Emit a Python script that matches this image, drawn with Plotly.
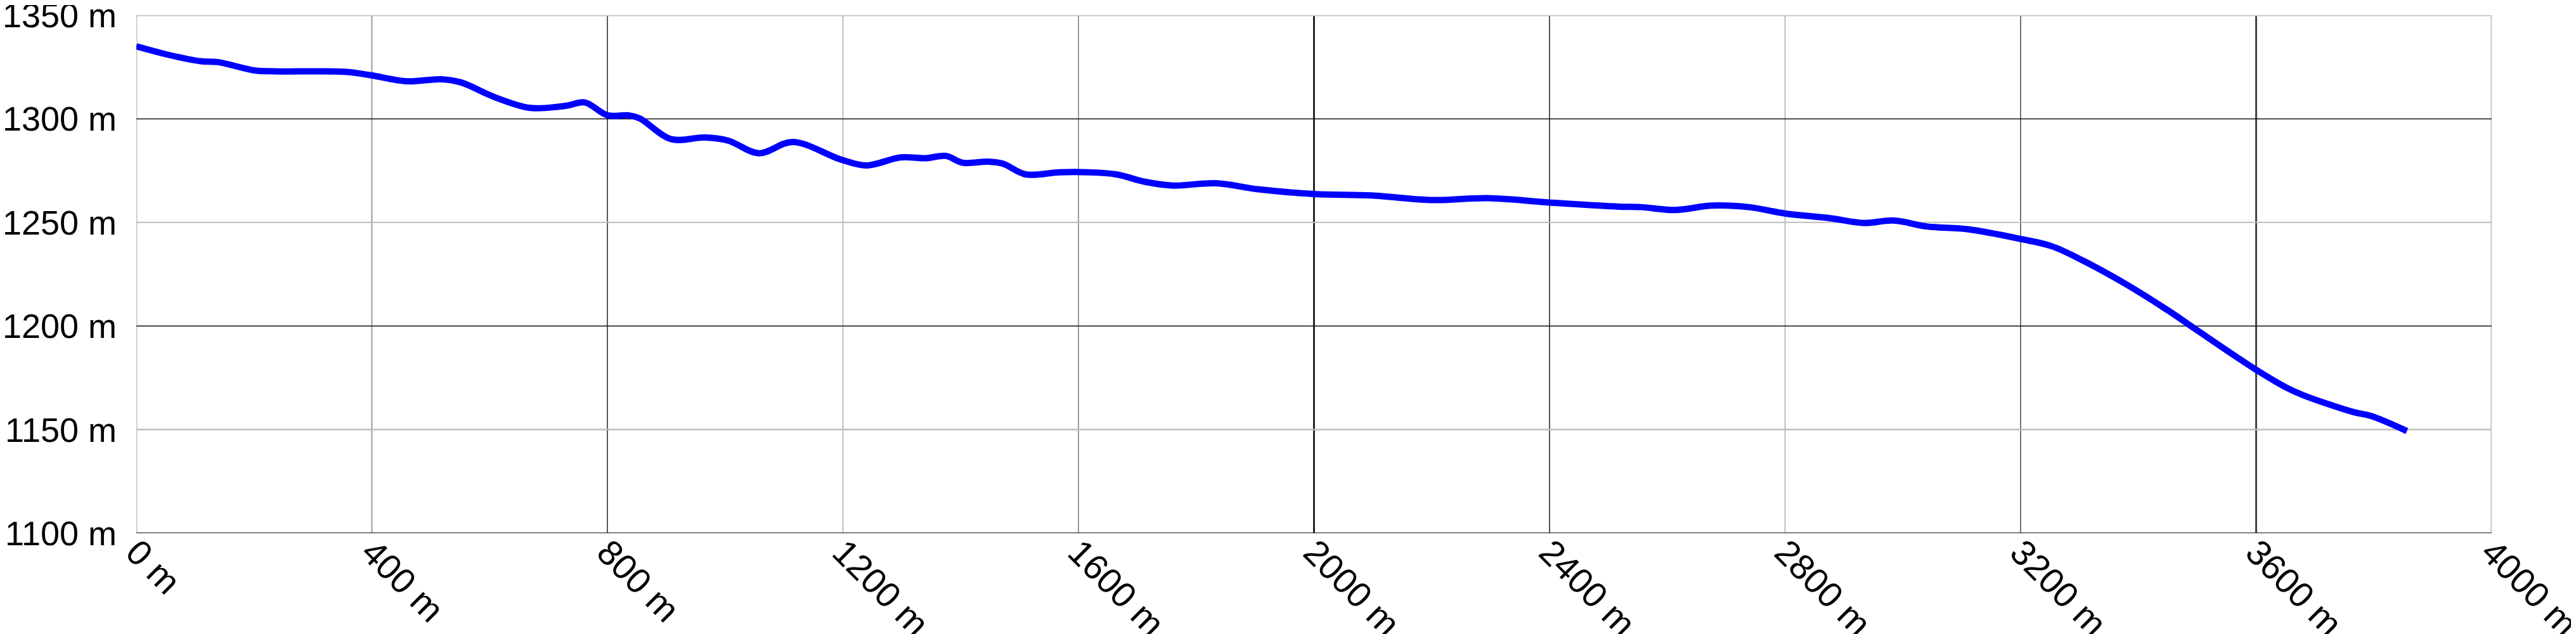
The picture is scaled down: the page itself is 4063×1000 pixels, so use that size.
import plotly.graph_objects as go

# distance along route (m) and elevation (m)
distance = [0, 56, 109, 138, 200, 234, 354, 397, 460, 517, 551, 609, 667, 716, 734,
            762, 800, 836, 855, 908, 966, 1005, 1057, 1115, 1197, 1240, 1298, 1341,
            1375, 1403, 1447, 1472, 1510, 1568, 1616, 1664, 1713, 1761, 1833, 1905,
            2000, 2097, 2202, 2295, 2400, 2517, 2555, 2613, 2676, 2738, 2800, 2877,
            2934, 2984, 3042, 3110, 3200, 3253, 3307, 3379, 3451, 3501, 3600, 3652,
            3680, 3766, 3795, 3856]
elevation = [1335.0, 1330.8, 1327.8, 1327.4, 1323.4, 1322.9, 1322.7, 1321.1, 1318.1,
             1319.1, 1317.6, 1310.4, 1305.3, 1305.8, 1306.5, 1307.9, 1301.7, 1301.7,
             1300.2, 1290.2, 1291.0, 1289.5, 1283.4, 1288.8, 1280.3, 1277.5, 1281.4,
             1281.0, 1282.1, 1278.8, 1279.3, 1278.3, 1273.2, 1274.2, 1274.2, 1273.2,
             1269.6, 1267.8, 1268.9, 1266.0, 1263.7, 1263.0, 1260.8, 1261.7, 1259.6,
             1257.6, 1257.4, 1256.0, 1258.1, 1257.4, 1254.3, 1252.0, 1249.7, 1250.9,
             1248.0, 1246.7, 1242.0, 1238.5, 1231.4, 1220.2, 1207.4, 1197.7, 1178.9,
             1170.2, 1166.6, 1158.4, 1156.6, 1149.3]

x_ticks = [0, 400, 800, 1200, 1600, 2000, 2400, 2800, 3200, 3600, 4000]
x_tick_labels = [f"{v} m" for v in x_ticks]
y_ticks = [1100, 1150, 1200, 1250, 1300, 1350]
y_tick_labels = [f"{v} m" for v in y_ticks]

# grid line styles (colour, width) per tick, as seen in the reference
x_grid_style = [("#c4c4c4", 3), ("#9a9a9a", 2), ("#222222", 1.5), ("#a8a8a8", 1.5),
                ("#9a9a9a", 2), ("#262626", 3), ("#555555", 2), ("#bcbcbc", 2),
                ("#444444", 1.5), ("#444444", 3), ("#bcbcbc", 3)]
y_grid_style = [("#111111", 2), ("#bcbcbc", 2.5), ("#111111", 1.5), ("#bcbcbc", 2),
                ("#111111", 1.5), ("#bcbcbc", 3)]

fig = go.Figure()

shapes = []
for v, (c, w) in zip(x_ticks, x_grid_style):
    shapes.append(dict(type="line", xref="x", yref="paper", x0=v, x1=v, y0=0, y1=1,
                       line=dict(color=c, width=w), layer="below"))
for v, (c, w) in zip(y_ticks, y_grid_style):
    shapes.append(dict(type="line", xref="paper", yref="y", x0=0, x1=1, y0=v, y1=v,
                       line=dict(color=c, width=w), layer="below"))

fig.add_trace(go.Scatter(
    x=distance, y=elevation, mode="lines",
    line=dict(color="#0000ff", width=10, shape="spline", smoothing=1.0),
    showlegend=False, hoverinfo="skip", cliponaxis=False,
))

xfont = dict(family="Liberation Sans, Arial, sans-serif", size=56, color="#000000")
yfont = dict(family="Liberation Sans, Arial, sans-serif", size=54, color="#000000")

fig.update_layout(
    width=4063, height=1000,
    margin=dict(l=207, r=141, t=16, b=167),
    paper_bgcolor="white", plot_bgcolor="white",
    shapes=shapes,
    xaxis=dict(range=[0, 4000], tickmode="array", tickvals=x_ticks, ticktext=x_tick_labels,
               tickangle=45, showgrid=False, zeroline=False, showline=False,
               ticks="", tickfont=xfont, ticklabelstandoff=-15, automargin=False,
               ticklabeloverflow="allow"),
    yaxis=dict(range=[1100, 1350], tickmode="array", tickvals=y_ticks, ticktext=y_tick_labels,
               showgrid=False, zeroline=False, showline=False, ticks="",
               tickfont=yfont, ticklabelstandoff=30, automargin=False,
               ticklabeloverflow="allow"),
)

fig.write_html("out.html")
